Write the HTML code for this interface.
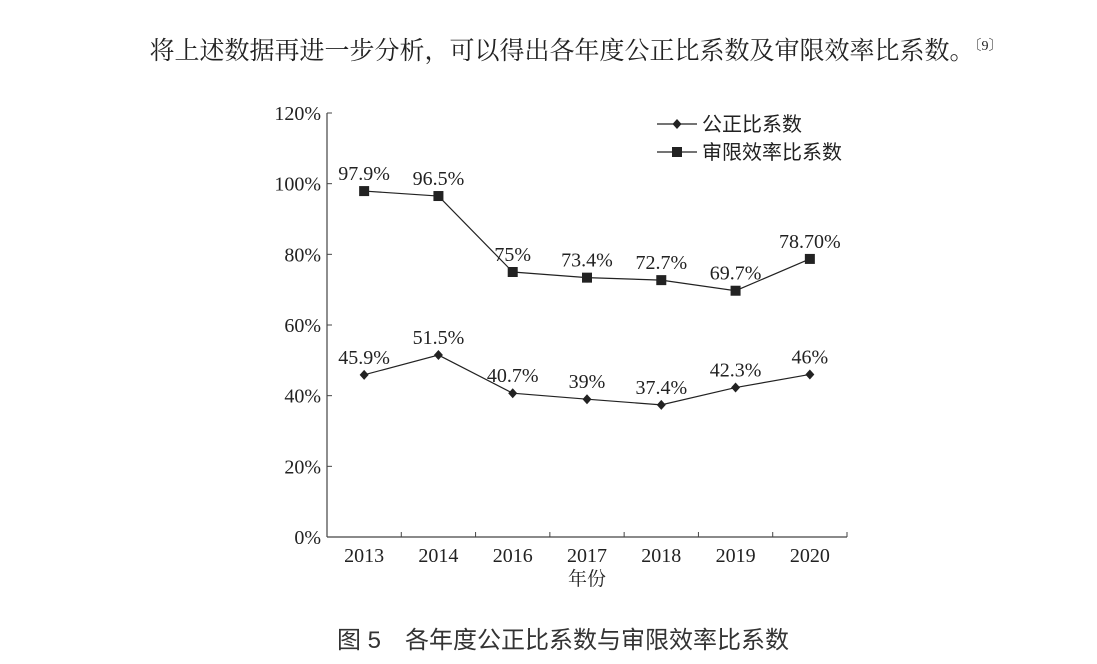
<!DOCTYPE html>
<html><head><meta charset="utf-8"><style>
body{margin:0;background:#fff;width:1097px;height:664px;overflow:hidden}
svg{display:block}
</style></head><body>
<svg width="1097" height="664">
<text x="576" y="59" text-anchor="middle" font-family="'Liberation Serif','Noto Serif CJK SC',serif" font-size="25" fill="#222">将上述数据再进一步分析，可以得出各年度公正比系数及审限效率比系数。<tspan font-size="14" dy="-9">〔9〕</tspan></text>
<g id="chart"></g>
<text x="563" y="648" text-anchor="middle" font-family="'Liberation Sans','Noto Sans CJK SC',sans-serif" font-size="24" fill="#333">图 5　各年度公正比系数与审限效率比系数</text>
</svg>
<script>
const categories=['2013','2014','2016','2017','2018','2019','2020'];
const fairValues=[45.9,51.5,40.7,39,37.4,42.3,46];
const fairLabels=['45.9%','51.5%','40.7%','39%','37.4%','42.3%','46%'];
const effValues=[97.9,96.5,75,73.4,72.7,69.7,78.7];
const effLabels=['97.9%','96.5%','75%','73.4%','72.7%','69.7%','78.70%'];
const yTicks=[0,20,40,60,80,100,120];
const NS='http://www.w3.org/2000/svg';
const g=document.getElementById('chart');
const X0=327,X1=847,Y0=537,Y1=113;
const bw=(X1-X0)/categories.length;
const xs=i=>X0+bw*(i+0.5);
const ys=v=>Y0-(v/120)*(Y0-Y1);
const serif="'Liberation Serif',serif";
function mk(t,a){const e=document.createElementNS(NS,t);for(const k in a)e.setAttribute(k,a[k]);g.appendChild(e);return e;}
let e=mk('line',{x1:X0,y1:Y1,x2:X0,y2:Y0,stroke:'#444','stroke-width':1.2});


e=mk('line',{x1:X0,y1:Y0,x2:X1,y2:Y0,stroke:'#444','stroke-width':1.2});


yTicks.forEach(v=>{
 const y=ys(v);
 let t=mk('line',{x1:X0,y1:y,x2:X0+5,y2:y,stroke:'#444'});
 
 
 let l=mk('text',{x:X0-6,y:y+7,'text-anchor':'end','font-family':serif,'font-size':20,fill:'#222'});
 l.textContent=v+'%';
 
 
});
for(let i=1;i<=categories.length;i++){
 let t=mk('line',{x1:X0+bw*i,y1:Y0,x2:X0+bw*i,y2:Y0-5,stroke:'#444'});
 
 
}
categories.forEach((c,i)=>{
 let l=mk('text',{x:xs(i),y:562,'text-anchor':'middle','font-family':serif,'font-size':20,fill:'#222'});
 l.textContent=c;
 
 
});
e=mk('text',{x:xs(3),y:585,'text-anchor':'middle','font-family':"'Liberation Serif','Noto Serif CJK SC',serif",'font-size':19,fill:'#222'});
e.textContent='年份';


function series(vals,labels,shape,name){
 let p=mk('polyline',{points:vals.map((v,i)=>xs(i)+','+ys(v)).join(' '),fill:'none',stroke:'#222','stroke-width':1.2});
 
 
 vals.forEach((v,i)=>{
  const x=xs(i),y=ys(v);let m;
  if(shape==='sq')m=mk('rect',{x:x-5,y:y-5,width:10,height:10,fill:'#222'});
  else m=mk('polygon',{points:`${x},${y-5} ${x+4.5},${y} ${x},${y+5} ${x-4.5},${y}`,fill:'#222'});
  
  
  let l=mk('text',{x:x,y:y-11,'text-anchor':'middle','font-family':serif,'font-size':20,fill:'#222'});
  l.textContent=labels[i];
  
  
 });
}
series(fairValues,fairLabels,'di','fair-ratio');
series(effValues,effLabels,'sq','efficiency-ratio');
const cjk="'Liberation Sans','Noto Sans CJK SC',sans-serif";
[['公正比系数','di',124,'legend-fair'],['审限效率比系数','sq',152,'legend-efficiency']].forEach(([t,s,y,n])=>{
 let l=mk('line',{x1:657,y1:y,x2:697,y2:y,stroke:'#222','stroke-width':1.2});
 
 
 let m=s==='sq'?mk('rect',{x:672,y:y-5,width:10,height:10,fill:'#222'}):mk('polygon',{points:`677,${y-5} 681.5,${y} 677,${y+5} 672.5,${y}`,fill:'#222'});
 
 
 let x=mk('text',{x:702,y:y+7,'font-family':cjk,'font-size':20,fill:'#222'});
 x.textContent=t;
 
 
});
</script>
</body></html>
